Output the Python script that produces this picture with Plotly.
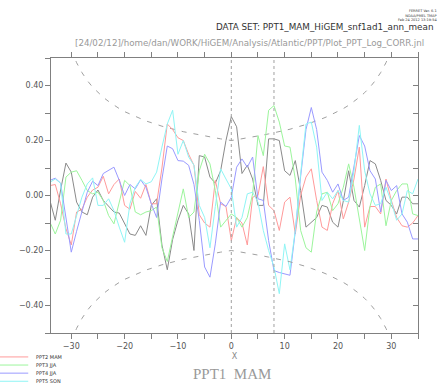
import plotly.graph_objects as go

# ---------------- data ----------------
lags = list(range(-34, 36))

ppt2_mam = [0.036, 0.04, -0.03, -0.12, -0.18, -0.06, -0.05, -0.006, 0.02, 0.03,
            0.07, 0.006, 0.04, 0.06, -0.036, -0.05, 0.015, -0.01, 0.04, -0.03,
            -0.03, 0.10, 0.26, 0.24, 0.21, 0.20, 0.15, 0.11, -0.07, -0.10,
            -0.115, 0.055, -0.03, -0.04, -0.164, -0.08, -0.10, -0.18, -0.006, 0.0,
            0.105, -0.036, -0.055, -0.127, -0.024, -0.006, -0.14, 0.0, 0.067, 0.097,
            -0.018, -0.115, -0.127, -0.03, 0.018, -0.085, -0.024, 0.06, 0.176, -0.115,
            -0.04, -0.04, -0.067, 0.06, -0.018, -0.08, -0.11, -0.115, -0.10, -0.073]

ppt3_jja = [-0.097, -0.14, -0.09, 0.067, 0.085, 0.09, 0.055, 0.018, 0.006, 0.012,
            -0.018, -0.073, -0.103, -0.02, 0.055, 0.036, -0.06, -0.07, -0.06, -0.055,
            -0.042, -0.19, -0.24, -0.15, -0.06, 0.024, -0.08, -0.06, 0.09, 0.15,
            0.115, 0.018, -0.115, -0.09, -0.067, -0.08, -0.115, -0.08, 0.006, 0.218,
            0.145, 0.31, 0.327, 0.267, 0.18, 0.176, 0.06, -0.127, -0.19, -0.206,
            -0.06, 0.006, 0.012, -0.055, -0.03, 0.03, 0.115, 0.03, -0.08, -0.20,
            -0.04, 0.03, 0.042, -0.11, -0.018, 0.018, 0.042, 0.042, -0.067, -0.073]

ppt4_jja = [0.055, 0.063, 0.045, -0.08, -0.206, -0.13, -0.055, 0.012, 0.052, 0.036,
            0.08, 0.09, 0.103, 0.055, 0.0, 0.04, 0.024, 0.057, 0.03, -0.03,
            -0.08, 0.06, 0.18, 0.17, 0.127, 0.125, 0.11, 0.04, -0.09, -0.26,
            -0.297, -0.176, -0.024, -0.04, -0.006, 0.103, 0.133, 0.103, 0.14, -0.012,
            -0.018, -0.164, -0.273, -0.28, -0.285, -0.29, -0.13, 0.07, 0.24, 0.32,
            0.24, 0.085, 0.055, 0.012, 0.042, -0.018, -0.006, 0.10, 0.218, 0.18,
            0.09, 0.06, -0.06, 0.055, 0.018, 0.036, -0.067, -0.097, -0.158, -0.158]

ppt5_son = [0.048, 0.06, 0.045, -0.14, -0.14, -0.07, -0.006, 0.042, 0.064, -0.036,
            -0.036, -0.012, -0.055, -0.115, -0.17, -0.03, 0.03, 0.058, 0.042, 0.05,
            0.085, 0.176, 0.26, 0.31, 0.15, 0.20, 0.14, 0.11, -0.036, -0.08,
            -0.19, -0.04, 0.097, 0.06, 0.024, -0.115, -0.08, 0.006, 0.012, -0.024,
            -0.127, -0.20, -0.26, -0.357, -0.176, -0.27, -0.127, 0.079, 0.26, 0.267,
            0.176, -0.018, 0.012, -0.012, 0.018, -0.018, -0.024, 0.09, 0.255, 0.09,
            0.006, -0.036, -0.03, 0.03, -0.024, -0.09, -0.067, 0.018, 0.006, 0.06]

ppt1_ref = [-0.018, -0.09, 0.02, 0.118, 0.085, -0.024, -0.06, -0.07, -0.006, 0.02,
            -0.018, -0.04, -0.06, -0.064, -0.10, -0.14, -0.145, -0.11, -0.145, -0.036,
            -0.012, -0.18, -0.27, -0.16, -0.09, -0.036, -0.067, -0.20, 0.145, 0.14,
            0.067, 0.045, 0.09, 0.20, 0.287, 0.25, 0.08, 0.11, 0.06, -0.036,
            -0.036, 0.206, 0.206, 0.20, 0.09, 0.073, 0.127, 0.018, -0.115, -0.097,
            -0.08, -0.036, -0.042, -0.097, -0.115, -0.02, 0.09, -0.018, -0.042, 0.036,
            0.127, 0.115, 0.055, -0.018, -0.036, -0.067, -0.006, -0.006, -0.03, -0.03]

# significance envelope (|lag| 0..30)
sig_abs_lags = list(range(0, 31))
sig_level = [0.200, 0.203, 0.206, 0.209, 0.212, 0.216, 0.220, 0.224, 0.228, 0.232,
             0.237, 0.241, 0.247, 0.252, 0.258, 0.265, 0.271, 0.279, 0.287, 0.296,
             0.305, 0.316, 0.328, 0.342, 0.357, 0.374, 0.394, 0.418, 0.447, 0.483,
             0.529]

marker_lags = [0, 8]

x_ticks = [-30, -20, -10, 0, 10, 20, 30]
y_ticks = [-0.4, -0.2, 0.0, 0.2, 0.4]

series = [
    ("PPT2 MAM", ppt2_mam, "#ff9a9a"),
    ("PPT3 JJA", ppt3_jja, "#9cf59c"),
    ("PPT4 JJA", ppt4_jja, "#9a9aff"),
    ("PPT5 SON", ppt5_son, "#8ff5f5"),
]
ref_color = "#8a8a8a"

# ---------------- figure ----------------
fig = go.Figure()

sig_x = [-k for k in reversed(sig_abs_lags)] + sig_abs_lags[1:]
sig_y = list(reversed(sig_level)) + sig_level[1:]
fig.add_trace(go.Scatter(x=sig_x, y=sig_y, mode="lines",
                         line=dict(color="#a0a0a0", width=1, dash="5px,7px"),
                         hoverinfo="skip", showlegend=False))
fig.add_trace(go.Scatter(x=sig_x, y=[-v for v in sig_y], mode="lines",
                         line=dict(color="#a0a0a0", width=1, dash="5px,7px"),
                         hoverinfo="skip", showlegend=False, yaxis="y2"))

fig.add_trace(go.Scatter(x=lags, y=ppt1_ref, mode="lines",
                         line=dict(color=ref_color, width=1),
                         name="PPT1 MAM", showlegend=False))
for name, vals, col in series:
    fig.add_trace(go.Scatter(x=lags, y=vals, mode="lines",
                             line=dict(color=col, width=1),
                             name=name, showlegend=False))

for lg in marker_lags:
    fig.add_shape(type="line", xref="x", yref="paper", x0=lg, x1=lg, y0=0, y1=1,
                  line=dict(color="#a0a0a0", width=1, dash="3px,3px"))

# legend drawn at bottom-left
leg_top = -0.087
leg_step = 0.0295
for i, (name, vals, col) in enumerate(series):
    yy = leg_top - i * leg_step
    fig.add_shape(type="line", xref="paper", yref="paper",
                  x0=-0.139, x1=-0.062, y0=yy, y1=yy,
                  line=dict(color=col, width=1))
    fig.add_annotation(xref="paper", yref="paper", x=-0.047, y=yy, text=name,
                       showarrow=False, xanchor="left", yanchor="middle",
                       font=dict(family="DejaVu Sans", size=5, color="#333"))

axis_col = "#808080"
tick_font = dict(family="DejaVu Sans", size=8, color="#555")

fig.update_layout(
    width=441, height=383,
    margin=dict(l=51, r=23, t=58, b=50),
    paper_bgcolor="white", plot_bgcolor="white",
    showlegend=False,
    xaxis=dict(range=[-33.8, 35.0], tickvals=x_ticks, ticks="outside", ticklen=5,
               tickcolor=axis_col, showline=True, linecolor=axis_col, linewidth=1,
               mirror="ticks", showgrid=False, zeroline=False, tickfont=tick_font,
               minor=dict(dtick=5, tick0=0, ticks="outside", ticklen=5, tickcolor=axis_col),
               title=dict(text="X", font=dict(family="DejaVu Sans", size=8, color="#888"),
                          standoff=3)),
    yaxis=dict(range=[-0.5, 0.5], tickvals=y_ticks, tickformat=".2f", ticks="outside",
               ticklen=5, tickcolor=axis_col, showline=True, linecolor=axis_col,
               linewidth=1, showgrid=False, zeroline=False, tickfont=tick_font,
               minor=dict(dtick=0.1, tick0=0, ticks="outside", ticklen=5, tickcolor=axis_col)),
    yaxis2=dict(range=[-0.5, 0.5], overlaying="y", side="right", tickvals=y_ticks,
                ticks="inside", ticklen=5, tickcolor=axis_col, showline=True,
                linecolor=axis_col, linewidth=1, showgrid=False, zeroline=False,
                showticklabels=False,
                minor=dict(dtick=0.1, tick0=0, ticks="inside", ticklen=5, tickcolor=axis_col)),
)

# header texts
fig.add_annotation(xref="paper", yref="paper", x=1.057, y=1.185,
                   text="FERRET Ver. 6.1<br>NOAA/PMEL TMAP<br>Feb 24 2012 13:19:54",
                   showarrow=False, xanchor="right", yanchor="top", align="right",
                   font=dict(family="DejaVu Sans", size=3.5, color="#333"))
fig.add_annotation(xref="paper", yref="paper", x=1.046, y=0.113 + 1.0,
                   text="DATA SET: PPT1_MAM_HiGEM_snf1ad1_ann_mean",
                   showarrow=False, xanchor="right", yanchor="middle",
                   font=dict(family="DejaVu Sans", size=8.8, color="#333"))
fig.add_annotation(xref="paper", yref="paper", x=0.059, y=1.055,
                   text="[24/02/12]/home/dan/WORK/HiGEM/Analysis/Atlantic/PPT/Plot_PPT_Log_CORR.jnl",
                   showarrow=False, xanchor="left", yanchor="middle",
                   font=dict(family="DejaVu Sans", size=8.7, color="#999"))
fig.add_annotation(xref="paper", yref="paper", x=0.4925, y=-0.186,
                   text="PPT1  MAM", showarrow=False, xanchor="center", yanchor="bottom",
                   font=dict(family="Liberation Serif", size=15, color="#999"))

fig.write_html("out.html", config={"displayModeBar": False},
               post_script="document.body.style.margin='0';document.body.style.overflow='hidden';")
